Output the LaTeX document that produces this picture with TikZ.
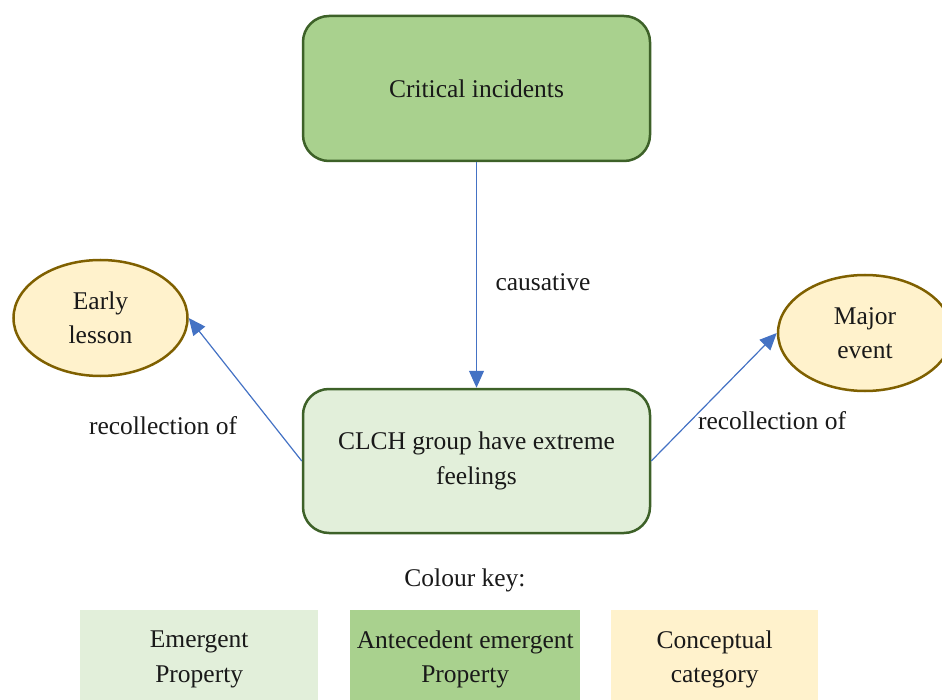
\documentclass[tikz,border=0pt]{standalone}
\usepackage{fontspec}
\setmainfont{Liberation Serif}
\usetikzlibrary{shapes.geometric,arrows.meta}
\definecolor{darkfill}{HTML}{A9D18E}
\definecolor{lightfill}{HTML}{E2EFDA}
\definecolor{yellowfill}{HTML}{FFF2CC}
\definecolor{greenline}{HTML}{3D6128}
\definecolor{goldline}{HTML}{7F6000}
\definecolor{arrowblue}{HTML}{4472C4}
\tikzset{
  txt/.style={font=\fontsize{25.5}{34.5}\selectfont, align=center, text=black!90},
  propbox/.style={txt, draw=greenline, line width=2.5pt, rounded corners=26pt,
    minimum width=347pt, minimum height=145pt, inner sep=0pt},
  catell/.style={txt, ellipse, draw=goldline, line width=2.5pt, fill=yellowfill,
    minimum width=174pt, minimum height=116pt, inner sep=0pt},
  keybox/.style={txt, minimum height=98pt, inner sep=0pt, anchor=north west},
  conn/.style={draw=arrowblue, line width=1.2pt, -{Triangle[length=17pt,width=15pt]}},
  lbl/.style={txt}
}
\begin{document}
\begin{tikzpicture}[x=1pt,y=-1pt]
\useasboundingbox (0,0) rectangle (942,700);
\node[propbox, fill=darkfill] (crit) at (476.5,88.5) {Critical incidents};
\node[propbox, fill=lightfill, minimum height=144pt] (clch) at (476.5,461) {\raisebox{-3pt}{\parbox{340pt}{\centering CLCH group have extreme\\feelings}}};
\node[catell] (early) at (100.5,318) {Early\\lesson};
\node[catell] (major) at (865,333) {Major\\event};
\draw[conn] (crit.south) -- (clch.north);
\draw[conn] (clch.west) -- (early.east);
\draw[conn] (clch.east) -- (major.west);
\node[lbl] (causlbl) at (543,282) {causative};
\node[lbl] (reclbl1) at (163,426) {recollection of};
\node[lbl] (reclbl2) at (772,421) {recollection of};
\node[lbl] (keylbl) at (465,580) {Colour key:};
\node[keybox, fill=lightfill, minimum width=238pt] (key1) at (80,610) {Emergent\\Property};
\node[keybox, fill=darkfill, minimum width=230pt] (key2) at (350,610) {Antecedent emergent\\Property};
\node[keybox, fill=yellowfill, minimum width=207pt] (key3) at (611,610) {Conceptual\\category};
\end{tikzpicture}
\end{document}
